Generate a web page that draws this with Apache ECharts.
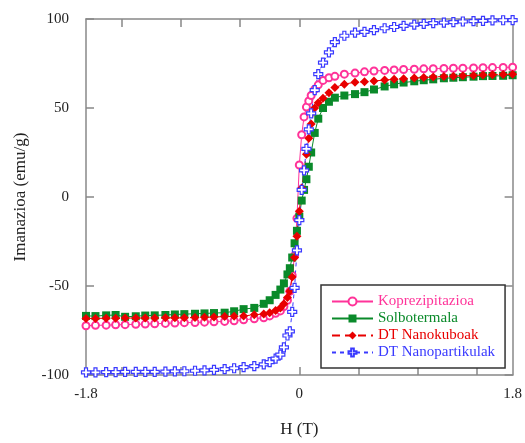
<!DOCTYPE html>
<html>
<head>
<meta charset="utf-8">
<script src="https://cdn.jsdelivr.net/npm/echarts@6/dist/echarts.min.js"></script>
<style>
  html, body { margin: 0; padding: 0; background: #fff; }
  #chart { width: 525px; height: 443px; }
</style>
</head>
<body>
<div id="chart"></div>
<script>
// H (T) values shared by all the samples
const fieldH = [
  -1.8, -1.72, -1.63, -1.55, -1.47, -1.38, -1.3, -1.22, -1.13, -1.05, -0.97, -0.88, -0.8, -0.72,
  -0.63, -0.55, -0.47, -0.38, -0.3, -0.25, -0.2, -0.16, -0.13, -0.1, -0.08, -0.06, -0.04, -0.02,
  0,
  0.02, 0.04, 0.06, 0.08, 0.1, 0.13, 0.16, 0.2, 0.25, 0.3, 0.38, 0.47, 0.55, 0.63,
  0.72, 0.8, 0.88, 0.97, 1.05, 1.13, 1.22, 1.3, 1.38, 1.47, 1.55, 1.63, 1.72, 1.8
]

// Imanazioa (emu/g)
const koprezipitazioa = [
  -72.3, -72.1, -72.0, -71.8, -71.7, -71.5, -71.4, -71.2, -71.0, -70.8, -70.6, -70.5, -70.3, -70.1,
  -69.9, -69.5, -69.0, -68.4, -67.9, -66.8, -65.3, -64.0, -61.5, -58.0, -53.0, -44.0, -33.0, -12.0,
  18.0,
  35.0, 45.0, 50.5, 54.0, 57.0, 60.5, 63.0, 65.5, 67.0, 67.8, 69.0, 69.6, 70.3, 70.8,
  71.1, 71.4, 71.6, 71.8, 72.0, 72.1, 72.2, 72.3, 72.4, 72.5, 72.6, 72.7, 72.8, 72.9
]
const solbotermala = [
  -66.8, -66.9, -66.5, -66.3, -67.3, -67.0, -66.6, -66.5, -66.3, -66.0, -65.8, -65.6, -65.4, -65.2,
  -65.0, -64.2, -63.0, -62.3, -60.0, -58.0, -55.0, -52.0, -48.5, -43.5, -40.0, -34.0, -26.0, -19.0,
  -11.0,
  -2.0, 4.0, 10.0, 17.0, 25.0, 36.0, 44.0, 50.0, 53.5, 55.8, 57.0, 57.8, 58.9, 60.4,
  62.1, 63.3, 64.3, 65.0, 65.6, 66.1, 66.7, 67.0, 67.3, 67.6, 67.9, 68.0, 68.1, 68.4
]
const nanokuboak = [
  -68.2, -68.2, -68.1, -68.1, -68.0, -68.0, -68.0, -68.0, -67.9, -67.9, -67.9, -67.7, -67.6, -67.4,
  -67.2, -67.0, -66.8, -66.2, -65.7, -65.0, -63.8, -62.3, -60.0, -56.5, -53.0, -45.0, -34.0, -22.0,
  -8.0,
  5.0, 15.0, 24.0, 33.0, 41.0, 50.0, 53.0, 55.5, 58.5, 61.5, 63.4, 64.5, 64.7, 65.2,
  65.7, 66.1, 66.5, 66.8, 67.1, 67.4, 67.7, 67.9, 68.1, 68.3, 68.5, 68.7, 68.8, 69.0
]
const nanopartikulak = [
  -98.5, -98.5, -98.4, -98.4, -98.3, -98.3, -98.2, -98.2, -98.1, -98.0, -97.9, -97.6, -97.4, -97.1,
  -96.7, -96.2, -95.6, -95.0, -94.0, -92.8, -90.8, -88.5, -84.5, -77.8, -75.5, -64.5, -51.0, -30.0,
  -13.0,
  4.0, 15.0, 27.0, 38.0, 47.0, 60.0, 69.0, 75.5, 81.2, 87.0, 90.6, 92.3, 92.8, 93.8,
  94.8, 95.5, 96.1, 96.8, 97.3, 97.7, 98.0, 98.3, 98.6, 98.8, 99.0, 99.2, 99.3, 99.4
]

const seriesNames = ['Koprezipitazioa', 'Solbotermala', 'DT Nanokuboak', 'DT Nanopartikulak']
const seriesColors = ['#ff3399', '#0a8a2a', '#e80000', '#3a3aff']
const xTicks = [-1.5, -1, -0.5, 0, 0.5, 1, 1.5]
const xLabels = [-1.8, 0, 1.8]

const serif = '"Liberation Serif", "DejaVu Serif", serif'
const axisGray = '#888'

function pairs (values) {
  return fieldH.map((h, i) => [h, values[i]])
}

const chart = echarts.init(document.getElementById('chart'))

const xBase = {
  type: 'value',
  min: -1.8,
  max: 1.8,
  axisLine: { onZero: false, lineStyle: { color: axisGray, width: 1.5 } },
  axisTick: { inside: true, length: 8, customValues: xTicks, lineStyle: { color: axisGray, width: 1.5 } },
  splitLine: { show: false }
}
const yBase = {
  type: 'value',
  min: -100,
  max: 100,
  interval: 50,
  axisLine: { onZero: false, lineStyle: { color: axisGray, width: 1.5 } },
  axisTick: { inside: true, length: 8, lineStyle: { color: axisGray, width: 1.5 } },
  splitLine: { show: false }
}

const option = {
  animation: false,
  backgroundColor: '#fff',
  grid: { left: 86, right: 5, top: 19, bottom: 63 },
  xAxis: [
    Object.assign({}, xBase, {
      position: 'bottom',
      name: 'H (T)',
      nameLocation: 'middle',
      nameGap: 46,
      nameTextStyle: { fontFamily: serif, fontSize: 17, color: '#222' },
      axisLabel: { customValues: xLabels, margin: 12, fontFamily: serif, fontSize: 15, color: '#222' }
    }),
    Object.assign({}, xBase, { position: 'top', axisLabel: { show: false } })
  ],
  yAxis: [
    Object.assign({}, yBase, {
      position: 'left',
      name: 'Imanazioa (emu/g)',
      nameLocation: 'middle',
      nameGap: 57,
      nameTextStyle: { fontFamily: serif, fontSize: 17, color: '#222' },
      axisLabel: { margin: 17, fontFamily: serif, fontSize: 15, color: '#222' }
    }),
    Object.assign({}, yBase, { position: 'right', axisLabel: { show: false } })
  ],
  legend: {
    orient: 'vertical',
    left: 321,
    top: 285,
    width: 183,
    padding: [9, 10, 8, 10],
    borderColor: '#333',
    borderWidth: 1.5,
    backgroundColor: '#fff',
    itemWidth: 41,
    itemHeight: 10,
    itemGap: 2,
    textStyle: { fontFamily: serif, fontSize: 15 },
    data: seriesNames.map((n, i) => ({ name: n, textStyle: { color: seriesColors[i] } }))
  },
  series: [
    {
      name: seriesNames[0],
      type: 'line',
      data: pairs(koprezipitazioa),
      symbol: 'emptyCircle',
      symbolSize: 7,
      showAllSymbol: true,
      itemStyle: { color: seriesColors[0], borderWidth: 1 },
      lineStyle: { color: seriesColors[0], width: 1 }
    },
    {
      name: seriesNames[1],
      type: 'line',
      data: pairs(solbotermala),
      symbol: 'rect',
      symbolSize: 8,
      showAllSymbol: true,
      itemStyle: { color: seriesColors[1] },
      lineStyle: { color: seriesColors[1], width: 1 }
    },
    {
      name: seriesNames[2],
      type: 'line',
      data: pairs(nanokuboak),
      symbol: 'diamond',
      symbolSize: 9,
      showAllSymbol: true,
      itemStyle: { color: seriesColors[2] },
      lineStyle: { color: seriesColors[2], width: 1, type: [8, 5] }
    },
    {
      name: seriesNames[3],
      type: 'line',
      data: pairs(nanopartikulak),
      symbol: 'path://M3,0H6V3H9V6H6V9H3V6H0V3H3Z',
      symbolSize: 9,
      showAllSymbol: true,
      itemStyle: { color: '#fff', borderColor: seriesColors[3], borderWidth: 1.2 },
      lineStyle: { color: seriesColors[3], width: 1, type: [4, 4] }
    }
  ]
}

chart.setOption(option)
</script>
</body>
</html>
